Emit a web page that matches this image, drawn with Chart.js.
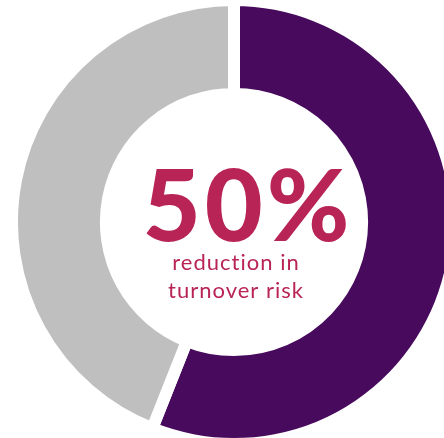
<!doctype html>
<html lang="en">
  <head>
    <meta charset="utf-8">
    <title>Turnover risk</title>
    <style>
      html, body { margin: 0; padding: 0; background: #fff; overflow: hidden; }
      #wrap { position: absolute; left: 0; top: 0; width: 468px; height: 444px; }
    </style>
  </head>
  <body>
    <div id="wrap">
      <canvas id="riskChart" width="468" height="444"></canvas>
    </div>

    <script src="https://cdn.jsdelivr.net/npm/chart.js"></script>
    <script>
        // Share of the ring for each part
        const segmentLabels = ['Reduced', 'Remaining'];
        const segmentValues = [56, 44];
        const segmentColors = ['#470a5c', '#bfbfbf'];

        // Text in the hole
        const headline = '50%';
        const captionLines = ['reduction in', 'turnover risk'];

        const textColor = '#b92457';

        // draws the big number and the caption in the middle
        const centerText = {
            id: 'centerText',
            afterDraw(chart) {
                const ctx = chart.ctx;
                ctx.save();
                ctx.fillStyle = textColor;
                ctx.textAlign = 'center';
                ctx.textBaseline = 'alphabetic';

                ctx.font = '900 100px Lato';
                ctx.letterSpacing = '4px';
                ctx.fillText(headline, 248, 241);

                ctx.font = '22px Lato';
                ctx.letterSpacing = '1px';
                ctx.fillText(captionLines[0], 236, 270);
                ctx.fillText(captionLines[1], 236, 298);
                ctx.restore();
            }
        };

        const riskChart = new Chart(document.getElementById('riskChart'), {
            type: 'doughnut',
            data: {
                labels: segmentLabels,
                datasets: [{
                    data: segmentValues,
                    backgroundColor: segmentColors,
                    borderColor: '#ffffff',
                    borderWidth: 12,
                    hoverOffset: 0
                }]
            },
            options: {
                responsive: false,
                animation: false,
                radius: 222,
                cutout: '57.7%',
                layout: { padding: 0 },
                plugins: {
                    legend: { display: false },
                    tooltip: { enabled: false }
                }
            },
            plugins: [centerText]
        });
    </script>
  </body>
</html>
